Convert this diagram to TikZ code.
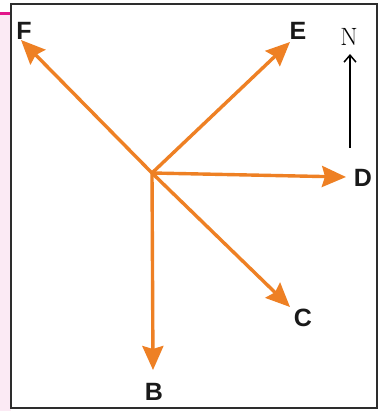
\documentclass[tikz,border=0pt]{standalone}
\usepackage{fontspec}
\setmainfont{Liberation Sans}
\usetikzlibrary{arrows.meta}
\definecolor{arr}{RGB}{238,128,36}
\definecolor{pinkbg}{RGB}{251,234,244}
\definecolor{mag}{RGB}{226,22,138}
\definecolor{frame}{RGB}{45,45,45}
\tikzset{
  dirarrow/.style={draw=arr, line width=3.4pt, -{Stealth[length=24pt,width=21pt,inset=3pt]}},
  lbl/.style={font=\fontsize{25}{27}\selectfont\bfseries, text=black!90, inner sep=0pt},
  northarrow/.style={draw=black, line width=1.5pt, -{Straight Barb[length=7pt,width=12pt,line width=1.5pt]}},
}
\begin{document}
\begin{tikzpicture}[x=1pt,y=-1pt]
\useasboundingbox (0,0) rectangle (378,411);
\fill[white] (0,0) rectangle (378,411);
\fill[pinkbg] (0,14) rectangle (11,411);
\draw[mag, line width=3pt] (0,14) -- (11,14);
\draw[frame, line width=2pt] (11,4) rectangle (377,408);
\coordinate (O) at (152,173);
\coordinate (tF) at (21,40);
\coordinate (tE) at (290,42);
\coordinate (tD) at (346,177);
\coordinate (tC) at (290,307);
\coordinate (tB) at (153,370);
\node[lbl] (F) at (24,31) {F};
\node[lbl] (E) at (298,31) {E};
\node[lbl] (D) at (363,178) {D};
\node[lbl] (C) at (303,318) {C};
\node[lbl] (B) at (154,392) {B};
\draw[dirarrow] (O) -- (tF);
\draw[dirarrow] (O) -- (tE);
\draw[dirarrow] (O) -- (tD);
\draw[dirarrow] (O) -- (tC);
\draw[dirarrow] (O) -- (tB);
\coordinate (nS) at (350,148);
\coordinate (nT) at (350,54);
\draw[northarrow] (nS) -- (nT);
\node[font=\fontspec{Latin Modern Roman}\fontsize{25}{27}\selectfont, inner sep=0pt] (N) at (349,37) {N};
\end{tikzpicture}
\end{document}
